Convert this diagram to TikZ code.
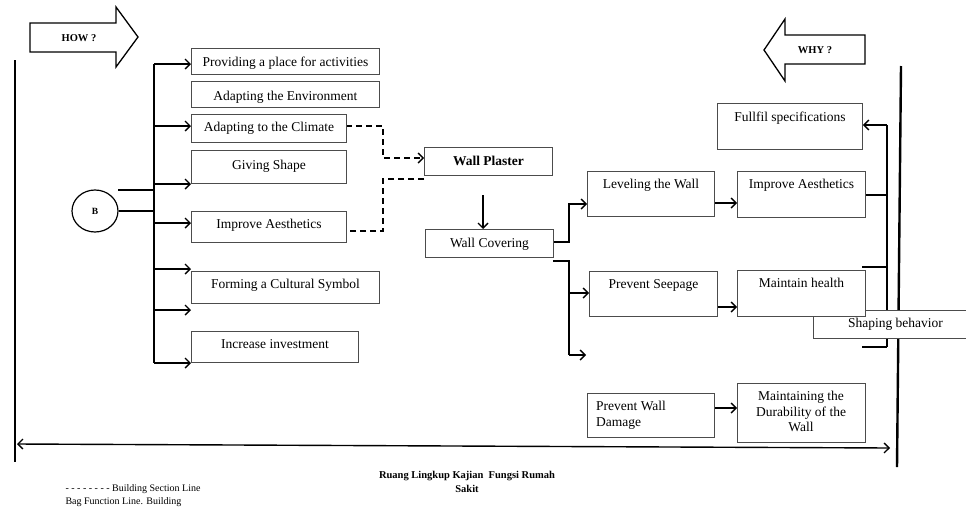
\documentclass[tikz,border=0pt]{standalone}
\usepackage{fontspec}
\setmainfont{Liberation Serif}
\usetikzlibrary{arrows.meta,shapes.geometric}
\pgfdeclarelayer{background}
\pgfsetlayers{background,main}
\begin{document}
\begin{tikzpicture}[x=1pt,y=-1pt,
  box/.style={draw=black!70,line width=0.9pt,inner sep=0pt,anchor=north west,fill=white,font=\fontsize{13.5}{15.5}\selectfont},
  txt/.style={inner sep=0pt,font=\fontsize{13.5}{15.5}\selectfont},
  conn/.style={line width=1.5pt,black},
  arr/.style={conn,-{Straight Barb[length=5pt,width=10pt,line width=1.4pt]}},
  dsh/.style={line width=1.4pt,dash pattern=on 6pt off 4pt},
  dsharr/.style={dsh,-{Straight Barb[length=5pt,width=10pt,line width=1.4pt]}},
  bigline/.style={line width=2.4pt},
  blockarr/.style={draw,line width=1.3pt,fill=white,line join=miter}
]
\useasboundingbox (0,0) rectangle (966,512);

% block arrows
\draw[blockarr] (30,23) -- (116,23) -- (116,7) -- (138,37) -- (116,67) -- (116,52) -- (30,52) -- cycle;
\node[font=\bfseries\fontsize{10.5}{12}\selectfont] (how) at (79,38) {HOW ?};
\draw[blockarr] (865,35) -- (785,35) -- (785,19) -- (764,50) -- (785,81) -- (785,64) -- (865,64) -- cycle;
\node[font=\bfseries\fontsize{10.5}{12}\selectfont] (why) at (815,50) {WHY ?};

% left boxes
\node[box,minimum width=188pt,text height=18pt,text depth=8pt] (prov) at (191,48) {Providing a place for activities};
\node[box,minimum width=188pt,text height=19pt,text depth=7pt] (env) at (191,81) {Adapting the Environment};
\node[box,minimum width=155pt,text height=17pt,text depth=11pt] (clim) at (191,114) {Adapting to the Climate};
\node[box,minimum width=155pt,text height=19pt,text depth=14pt] (shape) at (191,150) {Giving Shape};
\node[box,minimum width=155pt,text height=17pt,text depth=14pt] (aesL) at (191,211) {Improve Aesthetics};
\node[box,minimum width=188pt,text height=17pt,text depth=15pt] (cult) at (191,271) {Forming a Cultural Symbol};
\node[box,minimum width=167pt,text height=17pt,text depth=14pt] (invest) at (191,331) {Increase investment};

% circle B
\node[draw,ellipse,line width=1.2pt,minimum width=46pt,minimum height=42pt,inner sep=0pt,font=\bfseries\fontsize{9.5}{10}\selectfont] (B) at (95,211) {B};

% centre boxes
\node[box,minimum width=128pt,text height=18pt,text depth=10pt,font=\bfseries\fontsize{13.5}{15.5}\selectfont] (plaster) at (424,147) {Wall Plaster};
\node[box,minimum width=128pt,text height=18pt,text depth=10pt] (cover) at (425,229) {Wall Covering};

% right boxes
\node[box,minimum width=127pt,text height=17pt,text depth=28pt] (level) at (587,171) {Leveling the Wall};
\node[box,minimum width=128pt,text height=17pt,text depth=29pt] (aesR) at (737,171) {Improve Aesthetics};
\node[box,minimum width=145pt,text height=18pt,text depth=28pt] (spec) at (717,103) {Fullfil specifications};
\node[box,minimum width=128pt,text height=17pt,text depth=28pt] (seep) at (589,271) {Prevent Seepage};
\node[box,minimum width=164pt,text height=17pt,text depth=11pt] (shaping) at (813,310) {Shaping behavior};
\node[box,minimum width=128pt,text height=17pt,text depth=29pt] (health) at (737,270) {Maintain health};
\node[box,minimum width=127pt,minimum height=44pt] (damage) at (587,393) {};
\node[txt,anchor=north west,align=left] (damagetxt) at (596,401) {Prevent Wall\\Damage};
\node[box,minimum width=128pt,minimum height=59pt] (dura) at (737,383) {};
\node[txt,anchor=north,align=center] (duratxt) at (801,391) {Maintaining the\\Durability of the\\Wall};

% bottom texts
\node[font=\bfseries\fontsize{10.5}{14.5}\selectfont,align=center] (title) at (467,482) {Ruang Lingkup Kajian\ \ Fungsi Rumah\\Sakit};
\node[anchor=west,font=\fontsize{10}{13}\selectfont,align=left] (legend) at (62,496) {- - - - - - - - Building Section Line\\Bag Function Line. Building};

% coordinates
\coordinate (ttop) at (154,64);
\coordinate (tbot) at (154,363);
\coordinate (t2) at (154,126);
\coordinate (t3) at (154,184);
\coordinate (t4) at (154,223);
\coordinate (t5) at (154,269);
\coordinate (t6) at (154,310);
\coordinate (tb1) at (154,190);
\coordinate (tb2) at (154,211);
\coordinate (bt) at (118,190);
\coordinate (d0) at (346,126);
\coordinate (d1) at (383,158);
\coordinate (d2) at (424,179);
\coordinate (d3) at (383,231);
\coordinate (pv) at (483,195);
\coordinate (c1) at (553,242);
\coordinate (c2) at (569,204);
\coordinate (c3) at (553,261);
\coordinate (c4) at (569,293);
\coordinate (c5) at (569,355);
\coordinate (c6) at (586,355);
\coordinate (r1) at (887,125);
\coordinate (r2) at (887,195);
\coordinate (r3) at (862,267);
\coordinate (r4) at (862,347);
\coordinate (r5) at (887,347);
\coordinate (lt) at (15,60);
\coordinate (lb) at (15,462);
\coordinate (rt) at (901,66);
\coordinate (rb) at (897,467);
\coordinate (hl) at (17,444);
\coordinate (hr) at (890,448);

\begin{pgfonlayer}{background}
% frame lines
\draw[bigline] (lt) -- (lb);
\draw[bigline] (rt) -- (rb);
\draw[line width=1.4pt,{Straight Barb[length=5pt,width=10pt,line width=1.3pt]}-{Straight Barb[length=5pt,width=10pt,line width=1.3pt]}] (hl) -- (hr);
% left trunk
\draw[conn] (ttop) -- (tbot);
\draw[conn] (bt) -- (tb1);
\draw[conn] (B.east) -- (tb2);
\draw[arr] (ttop) -- (ttop -| prov.west);
\draw[arr] (t2) -- (t2 -| clim.west);
\draw[arr] (t3) -- (t3 -| shape.west);
\draw[arr] (t4) -- (t4 -| aesL.west);
\draw[arr] (t5) -- (t5 -| cult.west);
\draw[arr] (t6) -- (t6 -| cult.west);
\draw[arr] (tbot) -- (tbot -| invest.west);
% dashed building section lines
\draw[dsharr] (d0) -| (d1) -- (d1 -| plaster.west);
\draw[dsh] (d2) -| (d3) -- (d3 -| aesL.east);
% plaster to covering
\draw[arr] (pv) -- (pv |- cover.north);
% covering branches
\draw[arr] (c1) -| (c2) -- (c2 -| level.west);
\draw[conn] (c3) -| (c5);
\draw[arr] (c4) -- (c4 -| seep.west);
\draw[arr] (c5) -- (c6);
% chains
\draw[arr] (level.east |- 0,203) -- (aesR.west |- 0,203);
\draw[arr] (seep.east |- 0,307) -- (health.west |- 0,307);
\draw[arr] (damage.east |- 0,408) -- (dura.west |- 0,408);
% right collector
\draw[conn] (r1) -- (r5);
\draw[arr] (r1) -- (r1 -| spec.east);
\draw[conn] (aesR.east |- r2) -- (r2);
\draw[conn] (r3) -- (r3 -| r1);
\draw[conn] (r4) -- (r5);
\end{pgfonlayer}
\end{tikzpicture}
\end{document}
